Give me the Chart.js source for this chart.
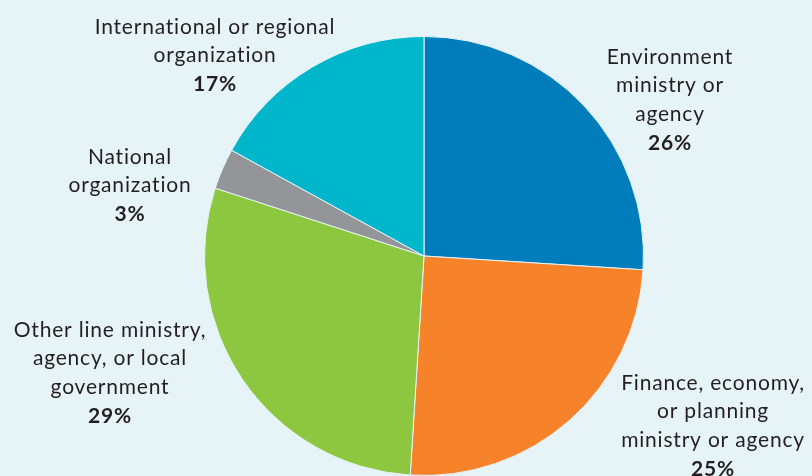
<!DOCTYPE html>
<html>
<head>
<meta charset="utf-8">
<script src="https://cdn.jsdelivr.net/npm/chart.js@4/dist/chart.umd.min.js"></script>
<style>
  html, body { margin: 0; padding: 0; background: #e6f4f7; }
  #wrap { width: 812px; height: 476px; position: relative; }
</style>
</head>
<body>
<div id="wrap"><canvas id="pieChart"></canvas></div>
<script>
// 分類ごとの割合(%)
var categories = [
    ["Environment", "ministry or", "agency"],
    ["Finance, economy,", "or planning", "ministry or agency"],
    ["Other line ministry,", "agency, or local", "government"],
    ["National", "organization"],
    ["International or regional", "organization"]
];
var shares = [26, 25, 29, 3, 17];
var colors = ["#007dba", "#f6822a", "#8dc63f", "#939598", "#00b6cb"];

// ラベルの中心位置 (x, 1行目のy)
var labelPos = [
    [670, 57],
    [713, 383],
    [110, 330],
    [130, 157],
    [215, 27]
];

var labelPlugin = {
    id: "outsideLabels",
    afterDraw: function(chart){
        var ctx = chart.ctx;
        ctx.save();
        ctx.fillStyle = "#231f20";
        ctx.textAlign = "center";
        ctx.textBaseline = "middle";
        // 字間を少し広げる(合字も出なくなる)
        ctx.letterSpacing = "0.8px";
        for(var i=0;i<categories.length;++i){
            var x = labelPos[i][0];
            var y = labelPos[i][1];
            ctx.font = "21px Lato";
            for(var j=0;j<categories[i].length;++j){
                ctx.fillText(categories[i][j], x, y + j*28.7);
            }
            ctx.font = "bold 21px Lato";
            ctx.fillText(shares[i] + "%", x, y + categories[i].length*28.7);
        }
        ctx.restore();
    }
};

var ctx1 = document.getElementById("pieChart");
var pieChart = new Chart(ctx1, {
    type: 'pie',
    data: {
        labels: categories.map(function(c){ return c.join(" "); }),
        datasets: [{
            data: shares,
            backgroundColor: colors,
            borderColor: "#e6f4f7",
            borderWidth: 1
        }]
    },
    options: {
        responsive: true,
        maintainAspectRatio: false,
        animation: false,
        layout: {
            padding: { left: 36, right: 0, top: 36, bottom: -1 }
        },
        plugins: {
            legend: { display: false },
            tooltip: { enabled: false }
        }
    },
    plugins: [labelPlugin]
});
</script>
</body>
</html>
